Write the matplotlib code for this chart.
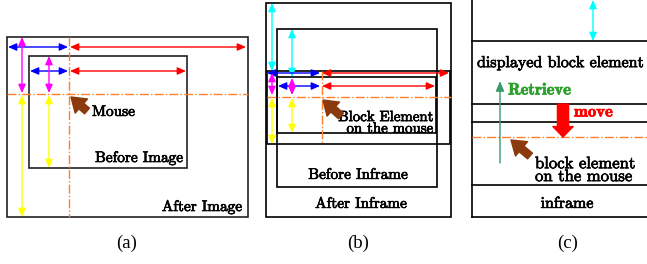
"""
plot.py - 三幅示意图：Image / Inframe / 块元素检索
"""

import matplotlib.pyplot as plt
import matplotlib.patheffects as pe
from matplotlib.patches import Rectangle

# 矩形框 (x0, y0, x1, y1)，像素坐标
boxes_a = [(7, 37, 248, 217), (29, 56, 187, 168)]
boxes_b = [(266, 3, 451, 217), (277, 29, 437, 187),
           (267, 71, 450, 144), (277, 77, 436, 133)]
lines_c = [41, 104, 122, 185, 217]   # 面板 (c) 的水平线

# 双向箭头 (颜色, x0, y0, x1, y1)
arrows_a = [
    ('blue', 8, 47, 68, 47), ('red', 70, 47, 246, 47),
    ('blue', 30, 71, 68, 71), ('red', 70, 71, 186, 71),
    ('magenta', 22, 37, 22, 93), ('magenta', 49, 56, 49, 93),
    ('yellow', 22, 95, 22, 217), ('yellow', 49, 95, 49, 168),
]
arrows_b = [
    ('cyan', 272, 3, 272, 71), ('cyan', 292, 29, 292, 77),
    ('blue', 267, 73, 320, 73), ('red', 322, 73, 449, 73),
    ('blue', 278, 86, 320, 86), ('red', 322, 86, 435, 86),
    ('magenta', 272, 73, 272, 95), ('magenta', 292, 78, 292, 95),
    ('yellow', 272, 98, 272, 144), ('yellow', 292, 98, 292, 133),
]
arrows_c = [('cyan', 593, 0, 593, 41)]

# 鼠标箭头 (尖端, 尾部)
mouse = [((71, 97), (87, 111)), ((323, 100), (341, 116)), ((511, 140), (530, 156))]

BROWN = '#8b3a0e'
ORANGE = '#ff7f2a'
FONT = 'cmr10'

fig = plt.figure(figsize=(6.47, 2.64), dpi=100)
ax = fig.add_axes([0, 0, 1, 1])
ax.set_xlim(0, 647)
ax.set_ylim(264, 0)
ax.axis('off')


def box(b, color='black', lw=1.2):
    ax.add_patch(Rectangle((b[0], b[1]), b[2] - b[0], b[3] - b[1],
                           fill=False, edgecolor=color, lw=lw))


def darrow(c, x0, y0, x1, y1):
    ax.annotate('', xy=(x1, y1), xytext=(x0, y0),
                arrowprops=dict(arrowstyle='<|-|>,head_length=0.5,head_width=0.22',
                                color=c, lw=1.0, mutation_scale=10,
                                shrinkA=0, shrinkB=0))


def mouse_arrow(tip, tail):
    ax.annotate('', xy=tip, xytext=tail,
                arrowprops=dict(arrowstyle='simple,head_width=1.5,head_length=1.1,tail_width=0.6',
                                color=BROWN, mutation_scale=9, shrinkA=0, shrinkB=0))


def label(x, y, s, size=11, **kw):
    kw.setdefault('fontfamily', FONT)
    color = kw.pop('color', 'black')
    ax.text(x, y, s, fontsize=size, va='center', color=color,
            path_effects=[pe.withStroke(linewidth=0.5, foreground=color)], **kw)


# ---- (a) ----
for b in boxes_a:
    box(b, color='#222222')
ax.plot([7, 248], [94, 94], color=ORANGE, ls='-.', lw=1.0)
ax.plot([69, 69], [37, 217], color=ORANGE, ls='-.', lw=1.0)
for a in arrows_a:
    darrow(*a)
label(92, 112, 'Mouse')
label(183, 158, 'Before Image', ha='right')
label(242, 207, 'After Image', ha='right')

# ---- (b) ----
for b in boxes_b:
    box(b)
ax.plot([267, 451], [97, 97], color=ORANGE, ls='-.', lw=1.0)
ax.plot([322, 322], [71, 144], color=ORANGE, ls='-.', lw=1.0)
for a in arrows_b:
    darrow(*a)
label(433, 123, 'Block Element\non the mouse', size=10.7, ha='right', linespacing=0.8)
label(358, 175, 'Before Inframe', ha='center')
label(361, 204, 'After Inframe', ha='center')

# ---- (c) ----
ax.plot([472, 472], [0, 217], color='black', lw=1.2)
for y in lines_c:
    ax.plot([472, 647], [y, y], color='black', lw=1.2)
ax.plot([472, 647], [137, 137], color=ORANGE, ls='-.', lw=1.0)
for a in arrows_c:
    darrow(*a)
label(477, 63, 'displayed block element', size=11.5)
ax.annotate('', xy=(500, 81), xytext=(500, 163),
            arrowprops=dict(arrowstyle='-|>,head_length=0.6,head_width=0.25',
                            color='#3a9a6a', lw=1.0, mutation_scale=10,
                            shrinkA=0, shrinkB=0))
label(508, 90, 'Retrieve', size=12, color='#2ca02c', fontfamily='cmb10')
ax.annotate('', xy=(563, 137), xytext=(563, 104),
            arrowprops=dict(arrowstyle='simple,head_width=1.45,head_length=0.75,tail_width=0.8',
                            color='red', mutation_scale=10, shrinkA=0, shrinkB=0))
label(574, 112, 'move', size=12, color='red', fontfamily='cmb10')
label(535, 170, 'block element\non the mouse', size=12, linespacing=0.8)
label(567, 204, 'inframe', size=11.5, ha='center')

for m in mouse:
    mouse_arrow(*m)

# 子图标签
for x, lab in zip([127, 358, 568], ['(a)', '(b)', '(c)']):
    ax.text(x, 243, lab, fontfamily='Liberation Serif', fontsize=13.5,
            va='center', ha='center')

fig.savefig('out.png', dpi=100)
